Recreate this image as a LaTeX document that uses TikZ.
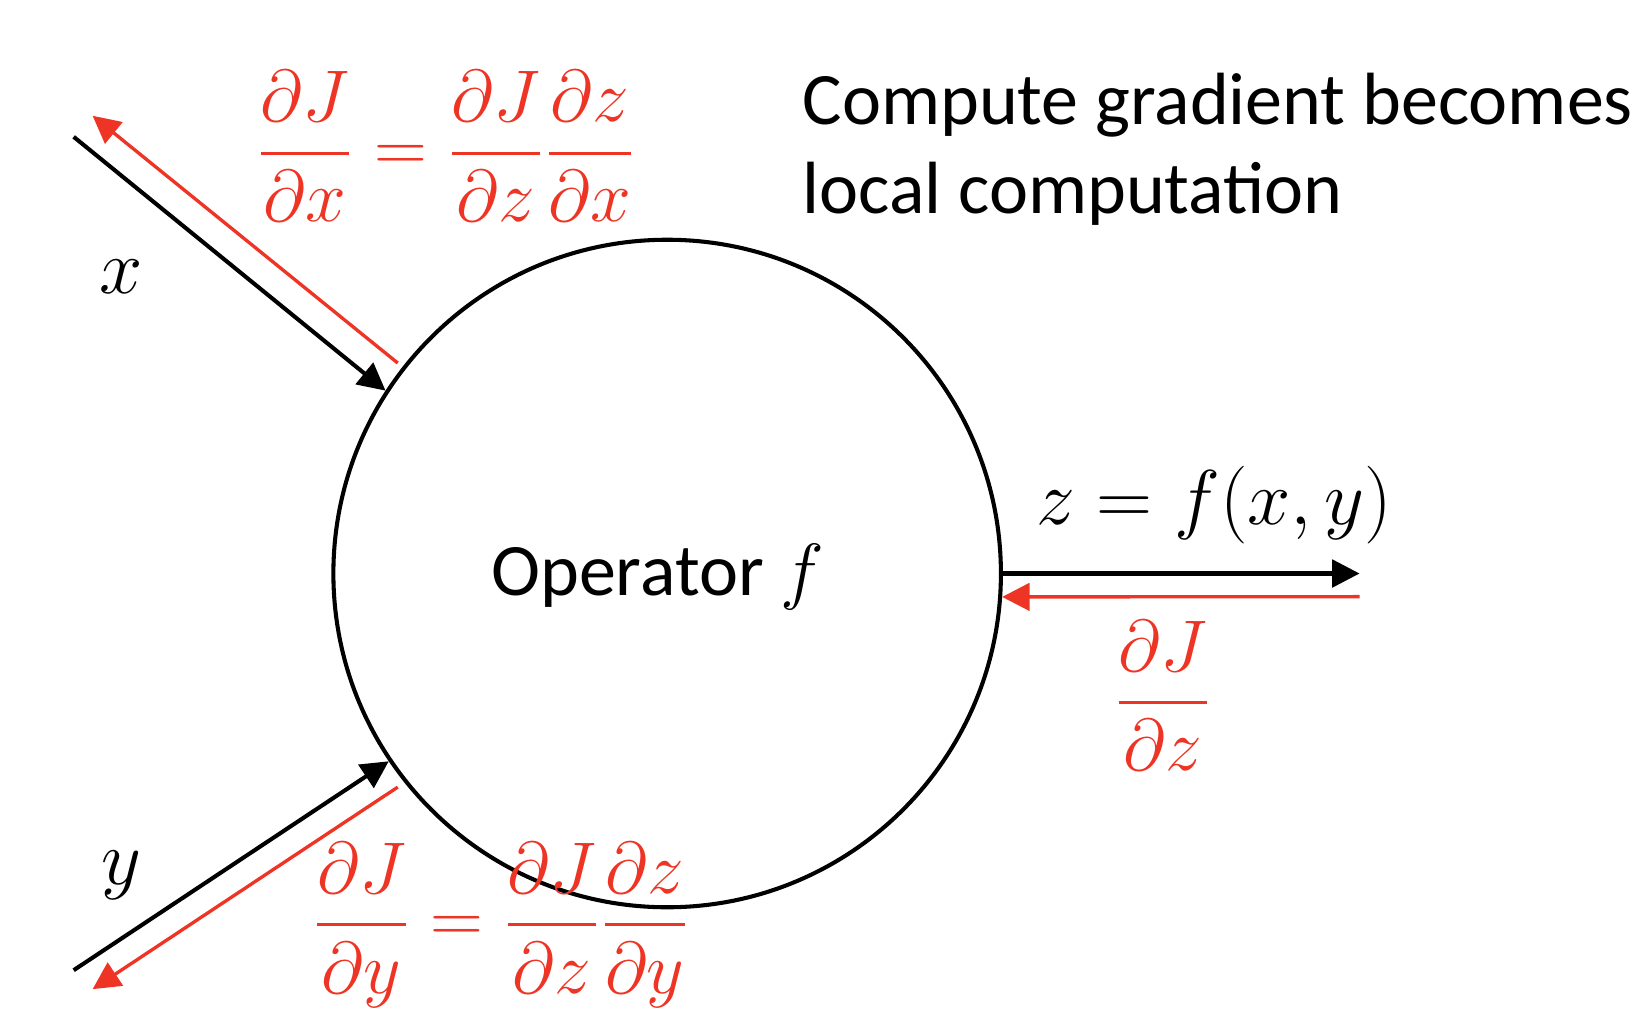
\RequirePackage{fix-cm}
\documentclass[tikz,border=0pt]{standalone}
\usepackage{amsmath}
\usepackage{fontspec}
\setmainfont{Carlito}
\usepackage{xcolor}
\usetikzlibrary{arrows.meta}
\definecolor{gradRed}{HTML}{EE3424}

\begin{document}
\begin{tikzpicture}[x=0.01cm,y=-0.01cm,
  fwd/.style={draw=black, line width=1.1pt, -{Triangle[length=2.6mm,width=2.6mm]}},
  bwd/.style={draw=gradRed, line width=0.9pt, -{Triangle[length=2.6mm,width=2.6mm]}},
  lbl/.style={font=\fontsize{21}{25}\selectfont, inner sep=0pt},
  glbl/.style={inner sep=0pt, font=\fontsize{19.8}{24}\selectfont, text=gradRed}]
\useasboundingbox (0,0) rectangle (1568,981);
\node[draw, circle, line width=1.1pt, minimum size=6.34cm, inner sep=0pt] (op) at (634,545) {};
\node[font=\fontsize{20}{24}\selectfont, inner sep=0pt] (opl) at (625,548) {Operator $f$};
% free ends
\coordinate (xin) at (70,130);
\coordinate (xback) at (88,110);
\coordinate (xgrad) at (378,345);
\coordinate (yin) at (70,922);
\coordinate (yback) at (88,940);
\coordinate (ygrad) at (378,748);
\coordinate (zout) at (1292,545);
\coordinate (zgrad) at (1292,567);
% forward
\draw[fwd] (xin) -- (op.147.5);
\draw[fwd] (yin) -- (op.-146);
\draw[fwd] (op.east) -- (zout);
% backward
\draw[bwd] (xgrad) -- (xback);
\draw[bwd] (ygrad) -- (yback);
\draw[bwd] (zgrad) -- (op.-4);
% labels
\node[lbl] (xl) at (115,263) {$x$};
\node[lbl] (yl) at (115,832) {$y$};
\node[lbl] (zl) at (1154,480) {$z=f(x,y)$};
\node[glbl] (gx) at (424,139) {$\dfrac{\partial J}{\partial x}=\dfrac{\partial J}{\partial z}\dfrac{\partial z}{\partial x}$};
\node[glbl] (gy) at (476,879) {$\dfrac{\partial J}{\partial y}=\dfrac{\partial J}{\partial z}\dfrac{\partial z}{\partial y}$};
\node[glbl] (gz) at (1105,661) {$\dfrac{\partial J}{\partial z}$};
\node[font=\fontsize{20}{24}\selectfont, align=left, anchor=north west, inner sep=0pt] (note) at (762,69) {Compute gradient becomes\\local computation};
\end{tikzpicture}
\end{document}
